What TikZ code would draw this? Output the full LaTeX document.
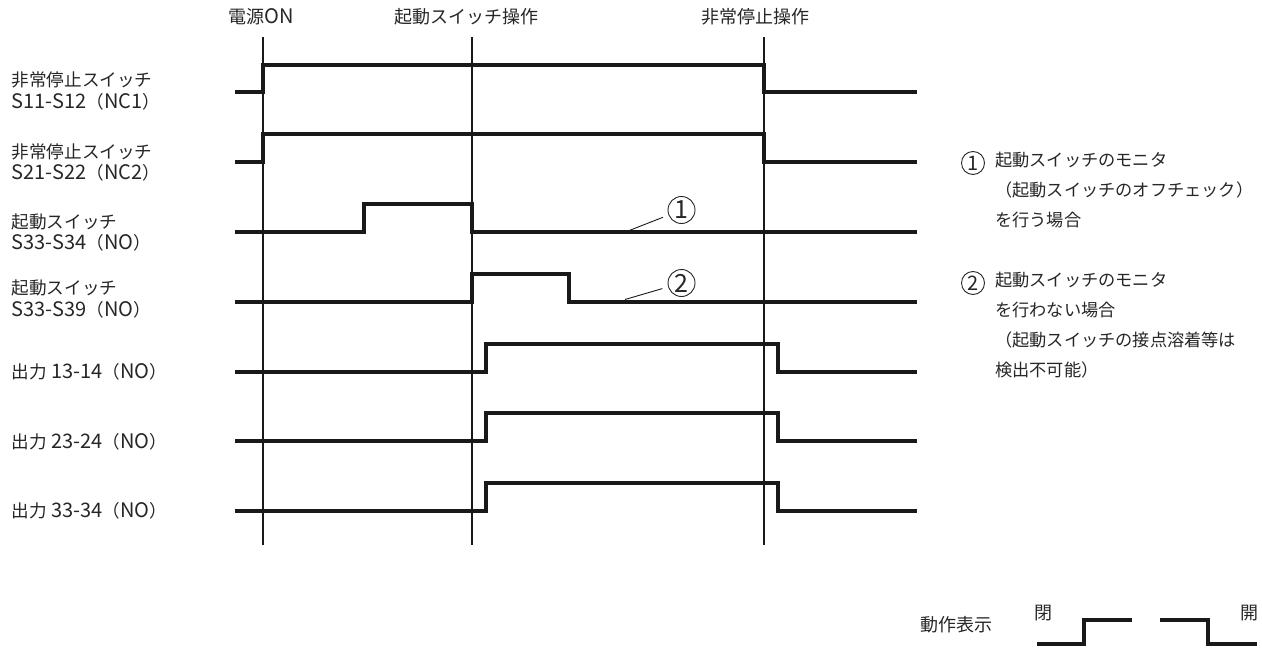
\documentclass[tikz,border=0pt]{standalone}
\usepackage{fontspec}
\setmainfont{Noto Sans CJK JP}
\newcommand\lat[1]{{\fontsize{20}{21.7}\selectfont #1}}
\begin{document}
\begin{tikzpicture}[x=1pt,y=-1pt,
  sig/.style={line width=4pt, line join=miter, color=black!90},
  gridline/.style={line width=2pt, color=black!90},
  leader/.style={line width=0.9pt, color=black!90},
  lbl/.style={font=\fontsize{17.6}{21.7}\selectfont, inner sep=0pt, align=left, anchor=west, text=black!85},
  toplbl/.style={font=\fontsize{18}{20}\selectfont, inner sep=0pt, text=black!85},
  note/.style={font=\fontsize{17.2}{20}\selectfont, inner sep=0pt, anchor=west, text height=0.88em, text depth=0.12em, text=black!85},
  cnum/.style={circle, draw=black!85, line width=0.9pt, minimum size=27pt, inner sep=0pt, font=\fontsize{25}{25}\selectfont, text=black!85},
  cnums/.style={cnum, minimum size=23pt, font=\fontsize{20}{20}\selectfont}]
\useasboundingbox (0,0) rectangle (1262,650);

% event lines
\coordinate (v1t) at (262.5,37); \coordinate (v1b) at (262.5,545);
\coordinate (v2t) at (471.5,37); \coordinate (v2b) at (471.5,545);
\coordinate (v3t) at (763.5,37); \coordinate (v3b) at (763.5,545);
\draw[gridline] (v1t) -- (v1b);
\draw[gridline] (v2t) -- (v2b);
\draw[gridline] (v3t) -- (v3b);

\node[toplbl] (h1) at (261,16.5) {電源\lat{ON}};
\node[toplbl] (h2) at (466,16.5) {起動スイッチ操作};
\node[toplbl] (h3) at (755,16.5) {非常停止操作};

% row labels
\node[lbl] (r1) at (11.5,91) {非常停止スイッチ\\\lat{S11-S12}（\lat{NC1}）};
\node[lbl] (r2) at (11.5,162.5) {非常停止スイッチ\\\lat{S21-S22}（\lat{NC2}）};
\node[lbl] (r3) at (11.5,232.5) {起動スイッチ\\\lat{S33-S34}（\lat{NO}）};
\node[lbl] (r4) at (11.5,299) {起動スイッチ\\\lat{S33-S39}（\lat{NO}）};
\node[lbl] (r5) at (11.5,372) {出力\lat{ 13-14}（\lat{NO}）};
\node[lbl] (r6) at (11.5,442) {出力\lat{ 23-24}（\lat{NO}）};
\node[lbl] (r7) at (11.5,511) {出力\lat{ 33-34}（\lat{NO}）};

% signals
\draw[sig] (235,92.5) -- (263,92.5) -- (263,65) -- (764,65) -- (764,92.5) -- (917,92.5);
\draw[sig] (235,162) -- (263,162) -- (263,134.5) -- (764,134.5) -- (764,162) -- (917,162);
\draw[sig] (235,232) -- (363.5,232) -- (363.5,204) -- (471.5,204) -- (471.5,232) -- (917,232);
\draw[sig] (235,301.5) -- (471.5,301.5) -- (471.5,274) -- (569,274) -- (569,301.5) -- (917,301.5);
\draw[sig] (235,371.5) -- (486,371.5) -- (486,344) -- (778,344) -- (778,371.5) -- (917,371.5);
\draw[sig] (235,441) -- (486,441) -- (486,413) -- (778,413) -- (778,441) -- (917,441);
\draw[sig] (235,511) -- (486,511) -- (486,483) -- (778,483) -- (778,511) -- (917,511);

% markers
\node[cnum] (c1) at (681.5,210) {1};
\node[cnum] (c2) at (681.5,283) {2};
\coordinate (l1) at (628,231);
\coordinate (l2) at (625,299.5);
\draw[leader, shorten <=6pt] (c1) -- (l1);
\draw[leader, shorten <=6pt] (c2) -- (l2);

% notes
\node[cnums] (n1) at (973,163) {1};
\node[note] (t11) at (995,163) {起動スイッチのモニタ};
\node[note] (t12) at (995,193) {（起動スイッチのオフチェック）};
\node[note] (t13) at (995,223) {を行う場合};
\node[cnums] (n2) at (973,283) {2};
\node[note] (t21) at (995,283) {起動スイッチのモニタ};
\node[note] (t22) at (995,313) {を行わない場合};
\node[note] (t23) at (995,343) {（起動スイッチの接点溶着等は};
\node[note] (t24) at (995,373) {検出不可能）};

% legend
\node[toplbl] (lg) at (956.5,625) {動作表示};
\node[toplbl] (lc) at (1043.5,613) {閉};
\node[toplbl] (lo) at (1249.5,613) {開};
\draw[sig] (1037,644) -- (1084,644) -- (1084,620) -- (1132,620);
\draw[sig] (1160,620) -- (1208,620) -- (1208,644) -- (1257,644);
\end{tikzpicture}
\end{document}
